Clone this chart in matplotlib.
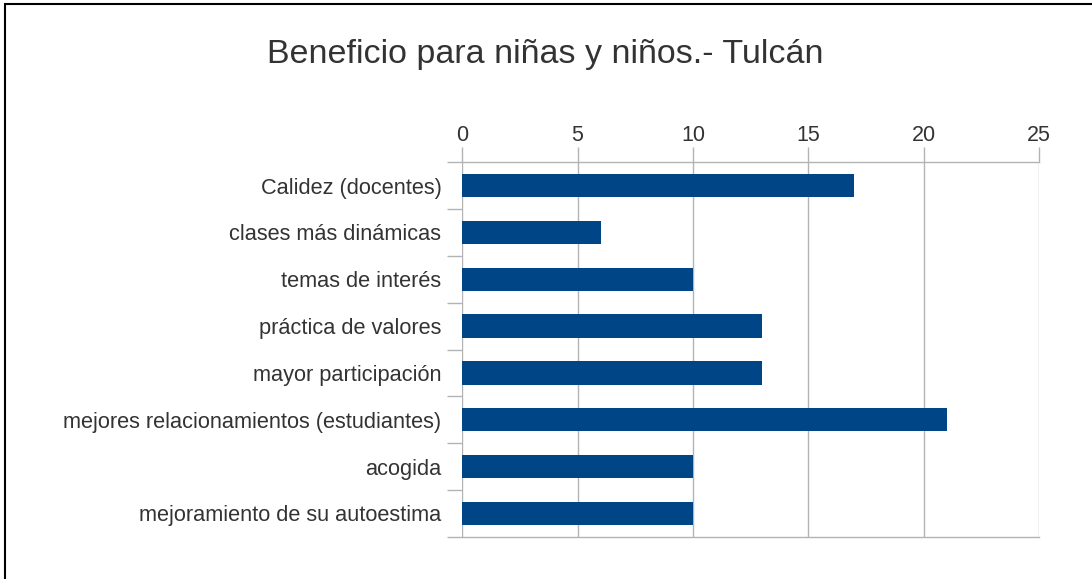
import matplotlib
matplotlib.use("Agg")
import matplotlib.pyplot as plt
from matplotlib.patches import Rectangle
import numpy as np

plt.rcParams['font.family'] = ['Liberation Sans', 'DejaVu Sans']

categories = [
    "Calidez (docentes)",
    "clases más dinámicas",
    "temas de interés",
    "práctica de valores",
    "mayor participación",
    "mejores relacionamientos (estudiantes)",
    "acogida",
    "mejoramiento de su autoestima",
]
values = [17, 6, 10, 13, 13, 21, 10, 10]
x_ticks = [0, 5, 10, 15, 20, 25]
title = "Beneficio para niñas y niños.- Tulcán"

W, H = 1092, 579
fig = plt.figure(figsize=(W / 100, H / 100), dpi=100)
ax = fig.add_axes([462.3 / W, (H - 536.7) / H, (1038.8 - 462.3) / W, (536.7 - 162.3) / H])

grid_col = "#b3b3b3"
text_col = "#333333"
bar_col = "#004586"

y = np.arange(len(categories))
ax.barh(y, values, height=0.5, color=bar_col, zorder=3)
ax.set_ylim(len(categories) - 0.5, -0.5)
ax.set_xlim(0, 25)

ax.xaxis.tick_top()
ax.set_xticks(x_ticks)
ax.set_xticklabels([str(t) for t in x_ticks], fontsize=15.5, color=text_col)
ax.tick_params(axis='x', length=11, color=grid_col, width=1, pad=1)

ax.set_yticks(y)
ax.set_yticklabels(categories, fontsize=15.65, color=text_col)
ax.tick_params(axis='y', which='major', length=0, pad=15)
ax.set_yticks(np.arange(-0.5, len(categories)), minor=True)
ax.tick_params(axis='y', which='minor', length=11, color=grid_col, width=1)

ax.grid(axis='x', color=grid_col, linewidth=1, zorder=0)
ax.set_axisbelow(True)
for side in ['top', 'bottom']:
    ax.spines[side].set_color(grid_col)
    ax.spines[side].set_linewidth(1)
for side in ['left', 'right']:
    ax.spines[side].set_visible(False)

fig.text(545 / W, 1 - 55 / H, title, ha='center', va='center', fontsize=24.5, color=text_col)

# outer frame (left and top edges visible)
fig.patches.append(Rectangle((5.3 / W, -0.1), 1.5, 1 - 4.3 / H + 0.1, transform=fig.transFigure,
                             fill=False, edgecolor='black', linewidth=1.5))

fig.savefig("out.png", dpi=100, facecolor='white')
